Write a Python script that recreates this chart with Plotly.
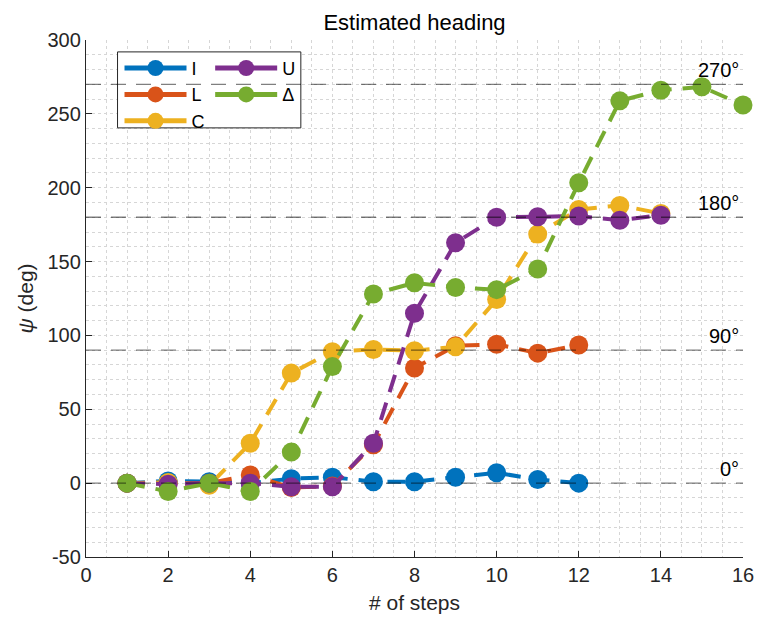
import plotly.graph_objects as go

# ---- data ----
steps_I = [1, 2, 3, 4, 5, 6, 7, 8, 9, 10, 11, 12]
psi_I = [0, 1.5, 1, 0, 3, 4, 1, 1, 4, 7, 2.5, 0]

steps_L = [1, 2, 3, 4, 5, 6, 7, 8, 9, 10, 11, 12]
psi_L = [0, 0, 0, 5.5, -3, -2, 26, 78, 93, 94, 88, 93.5]

steps_C = [1, 2, 3, 4, 5, 6, 7, 8, 9, 10, 11, 12, 13, 14]
psi_C = [0, 0.5, -1.5, 27, 74.5, 89, 90.5, 89.6, 92.3, 124.3, 168.6, 185.3, 188, 182.6]

steps_U = [1, 2, 3, 4, 5, 6, 7, 8, 9, 10, 11, 12, 13, 14]
psi_U = [0, -0.7, 0, 0, -2.5, -2.5, 27, 115, 162.7, 180, 180.3, 180.8, 178, 181.4]

steps_D = [1, 2, 3, 4, 5, 6, 7, 8, 9, 10, 11, 12, 13, 14, 15, 16]
psi_D = [0, -5.6, 0, -5.6, 21, 79, 128, 135.6, 132.5, 131, 145, 203.3, 258.8, 266, 268.3, 256]

series_names = ["I", "L", "C", "U", "Δ"]
series_colors = ["#0072BD", "#D95319", "#EDB120", "#7E2F8E", "#77AC30"]
legend_columns = ["legend", "legend", "legend", "legend2", "legend2"]

ref_levels = [0, 90, 180, 270]
ref_labels = ["0°", "90°", "180°", "270°"]

x_ticks = [0, 2, 4, 6, 8, 10, 12, 14, 16]
x_tick_text = ["0", "2", "4", "6", "8", "10", "12", "14", "16"]
y_ticks = [-50, 0, 50, 100, 150, 200, 250, 300]
y_tick_text = ["-50", "0", "50", "100", "150", "200", "250", "300"]

FONT = "Liberation Sans, Arial, Helvetica, sans-serif"
TXT = "#262626"
GRID = "#d6d6d6"

fig = go.Figure()

all_x = [steps_I, steps_L, steps_C, steps_U, steps_D]
all_y = [psi_I, psi_L, psi_C, psi_U, psi_D]

for xs, ys, name, col in zip(all_x, all_y, series_names, series_colors):
    fig.add_trace(go.Scatter(
        x=xs, y=ys, mode="lines+markers", name=name, legendgroup=name,
        showlegend=False, cliponaxis=False,
        line=dict(color=col, width=4, dash="18px,11px"),
        marker=dict(symbol="circle", size=19, color=col, line=dict(width=0)),
    ))

# legend entries (solid line + marker like the reference legend), two columns
for name, col, lg in zip(series_names, series_colors, legend_columns):
    fig.add_trace(go.Scatter(
        x=[None], y=[None], mode="lines+markers", name=name, legendgroup=name,
        legend=lg, showlegend=True,
        line=dict(color=col, width=5),
        marker=dict(symbol="circle", size=19, color=col, line=dict(width=0)),
    ))

# legend box
fig.add_shape(type="rect", xref="paper", yref="paper", x0=0.048, x1=0.327, y0=0.830, y1=0.977,
              line=dict(color=TXT, width=1), fillcolor="white", layer="above")

for lvl, lab in zip(ref_levels, ref_labels):
    fig.add_shape(type="line", xref="paper", x0=0, x1=1, yref="y", y0=lvl, y1=lvl,
                  line=dict(color="rgba(0,0,0,0.5)", width=1.3, dash="15px,10px"),
                  layer="above")
    fig.add_annotation(x=0.997, y=lvl, xref="paper", yref="y", text=lab, showarrow=False,
                       xanchor="right", yanchor="bottom", yshift=1,
                       font=dict(family=FONT, size=20, color="#000000"))

axis_common = dict(
    showline=True, linecolor=TXT, linewidth=1.3, mirror=False,
    ticks="inside", ticklen=6, tickwidth=1.3, tickcolor=TXT,
    showgrid=True, gridcolor=GRID, gridwidth=1, griddash="dot",
    zeroline=False, tickfont=dict(family=FONT, size=20, color=TXT),
)

fig.update_xaxes(
    range=[0, 16], tickvals=x_ticks, ticktext=x_tick_text, **axis_common,
    minor=dict(dtick=0.5, showgrid=True, gridcolor=GRID, gridwidth=1, griddash="dot", ticks=""),
    title=dict(text="# of steps", font=dict(family=FONT, size=21, color=TXT), standoff=10),
)
fig.update_yaxes(
    range=[-50, 300], tickvals=y_ticks, ticktext=y_tick_text, **axis_common,
    minor=dict(dtick=10, showgrid=True, gridcolor=GRID, gridwidth=1, griddash="dot", ticks=""),
    title=dict(text="<i>ψ</i> (deg)", font=dict(family=FONT, size=21, color=TXT), standoff=8),
)

legend_common = dict(
    orientation="v", xanchor="left", yanchor="top",
    bgcolor="rgba(0,0,0,0)", borderwidth=0,
    font=dict(family=FONT, size=18, color="#000000"),
    itemwidth=62, tracegroupgap=0,
)

fig.update_layout(
    width=766, height=625,
    margin=dict(l=86, r=14, t=40, b=68),
    paper_bgcolor="white", plot_bgcolor="white",
    title=dict(text="Estimated heading", x=0.5, xref="paper", xanchor="center",
               y=1 - 22 / 625, yanchor="middle",
               font=dict(family=FONT, size=22, color="#000000")),
    legend=dict(x=0.051, y=0.981, **legend_common),
    legend2=dict(x=0.189, y=0.981, **legend_common),
    showlegend=True,
)

fig.write_html("out.html")
